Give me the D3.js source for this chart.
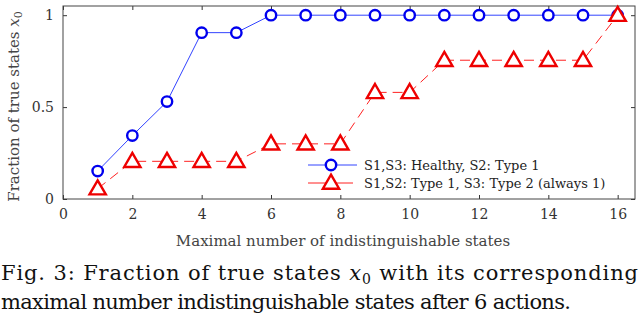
<!DOCTYPE html>
<html lang="en">
<head>
<meta charset="UTF-8">
<script src="https://d3js.org/d3.v7.min.js"></script>
<title>Fraction of true states</title>
<style>
    body { margin: 0; background: #fff; }
    svg text { font-family: "DejaVu Serif", "Liberation Serif", serif; fill: #222; }
    .tick text { font-size: 14px; fill: #333; }
</style>
</head>
<body>
<div id="chart"></div>
<script>
    // Data
    var states = [1, 2, 3, 4, 5, 6, 7, 8, 9, 10, 11, 12, 13, 14, 15, 16];
    var healthy = [0.152, 0.345, 0.53, 0.905, 0.905, 1, 1, 1, 1, 1, 1, 1, 1, 1, 1, 1];
    var type2 = [0.056, 0.205, 0.205, 0.205, 0.205, 0.30, 0.30, 0.30, 0.58, 0.58, 0.755, 0.755, 0.755, 0.755, 0.755, 1];
    var xTicks = [0, 2, 4, 6, 8, 10, 12, 14, 16];
    var yTicks = [0, 0.5, 1];
    var seriesNames = ["S1,S3: Healthy, S2: Type 1", "S1,S2: Type 1, S3: Type 2 (always 1)"];

    var width = 640, height = 316;
    var pLeft = 63, pRight = 635, pTop = 6, pBottom = 199;

    var svg = d3.select("#chart").append("svg")
        .attr("width", width)
        .attr("height", height);

    var x = d3.scaleLinear().domain([0, 16.5]).range([pLeft, pRight]);
    var y = d3.scaleLinear().domain([0, 1.05]).range([pBottom, pTop]);

    // axes box with inward ticks
    svg.append("g").attr("transform", "translate(0," + pBottom + ")")
        .call(d3.axisBottom(x).tickValues(xTicks).tickSizeInner(-4).tickSizeOuter(0).tickPadding(10))
        .call(function (g) { g.select(".domain").remove(); });
    svg.append("g").attr("transform", "translate(0," + pTop + ")")
        .call(d3.axisTop(x).tickValues(xTicks).tickSizeInner(-4).tickSizeOuter(0).tickFormat(""))
        .call(function (g) { g.select(".domain").remove(); });
    svg.append("g").attr("transform", "translate(" + pLeft + ",0)")
        .call(d3.axisLeft(y).tickValues(yTicks).tickSizeInner(-4).tickSizeOuter(0).tickPadding(9).tickFormat(d3.format("")))
        .call(function (g) { g.select(".domain").remove(); });
    svg.append("g").attr("transform", "translate(" + pRight + ",0)")
        .call(d3.axisRight(y).tickValues(yTicks).tickSizeInner(-4).tickSizeOuter(0).tickFormat(""))
        .call(function (g) { g.select(".domain").remove(); });
    svg.selectAll(".tick line").attr("stroke", "#333");

    svg.append("rect")
        .attr("x", pLeft).attr("y", pTop)
        .attr("width", pRight - pLeft).attr("height", pBottom - pTop)
        .attr("fill", "none").attr("stroke", "#444").attr("stroke-width", 1);

    var line = d3.line()
        .x(function (d, i) { return x(states[i]); })
        .y(function (d) { return y(d); });

    // blue series
    svg.append("path").datum(healthy)
        .attr("d", line)
        .attr("fill", "none").attr("stroke", "#3344ff").attr("stroke-width", 1);
    svg.selectAll(".circ").data(healthy).enter().append("circle")
        .attr("cx", function (d, i) { return x(states[i]); })
        .attr("cy", function (d) { return y(d); })
        .attr("r", 5.2)
        .attr("fill", "white").attr("stroke", "#0000ee").attr("stroke-width", 2.4);

    // red series
    var tri = d3.symbol().type(d3.symbolTriangle).size(115);
    svg.append("path").datum(type2)
        .attr("d", line)
        .attr("fill", "none").attr("stroke", "#ff2020").attr("stroke-width", 1)
        .attr("stroke-dasharray", "10,6");
    svg.selectAll(".tri").data(type2).enter().append("path")
        .attr("d", tri)
        .attr("transform", function (d, i) { return "translate(" + x(states[i]) + "," + (y(d) + 1) + ")"; })
        .attr("fill", "white").attr("stroke", "#ee0000").attr("stroke-width", 2.4);

    // legend
    var legend = svg.append("g");
    var rows = [165, 183];
    legend.append("line").attr("x1", 308).attr("x2", 357).attr("y1", rows[0]).attr("y2", rows[0])
        .attr("stroke", "#3344ff").attr("stroke-width", 1);
    legend.append("circle").attr("cx", 331).attr("cy", rows[0]).attr("r", 5.2)
        .attr("fill", "white").attr("stroke", "#0000ee").attr("stroke-width", 2.4);
    legend.append("line").attr("x1", 308).attr("x2", 353).attr("y1", rows[1]).attr("y2", rows[1])
        .attr("stroke", "#ff2020").attr("stroke-width", 1);
    legend.append("path").attr("d", tri).attr("transform", "translate(331," + (rows[1] + 1) + ")")
        .attr("fill", "white").attr("stroke", "#ee0000").attr("stroke-width", 2.4);
    legend.selectAll(".lt").data(seriesNames).enter().append("text")
        .attr("x", 364).attr("y", function (d, i) { return rows[i] + 4.5; })
        .style("font-size", "13px")
        .text(function (d) { return d; });

    // axis titles
    svg.append("text")
        .attr("x", (pLeft + pRight) / 2 - 6).attr("y", 246)
        .attr("text-anchor", "middle").style("font-size", "15px").style("fill", "#444")
        .text("Maximal number of indistinguishable states");
    var yl = svg.append("text")
        .attr("transform", "translate(19," + ((pTop + pBottom) / 2 + 4) + ") rotate(-90)")
        .attr("text-anchor", "middle").style("font-size", "15px").style("fill", "#444")
        .text("Fraction of true states ");
    yl.append("tspan").style("font-style", "italic").text("x");
    yl.append("tspan").attr("dy", 3).style("font-size", "11px").text("0");

    // caption
    var cap1 = svg.append("text")
        .attr("x", 1).attr("y", 280)
        .attr("textLength", 637).attr("lengthAdjust", "spacing")
        .style("font-size", "21px").style("fill", "#111");
    cap1.append("tspan").text("Fig. 3: Fraction of true states ");
    cap1.append("tspan").style("font-style", "italic").text("x");
    cap1.append("tspan").attr("dy", 4).style("font-size", "14px").text("0");
    cap1.append("tspan").attr("dy", -4).text(" with its corresponding");
    svg.append("text")
        .attr("x", 1).attr("y", 309)
        .attr("textLength", 570).attr("lengthAdjust", "spacing")
        .style("font-size", "21px").style("fill", "#111")
        .text("maximal number indistinguishable states after 6 actions.");
</script>
</body>
</html>
